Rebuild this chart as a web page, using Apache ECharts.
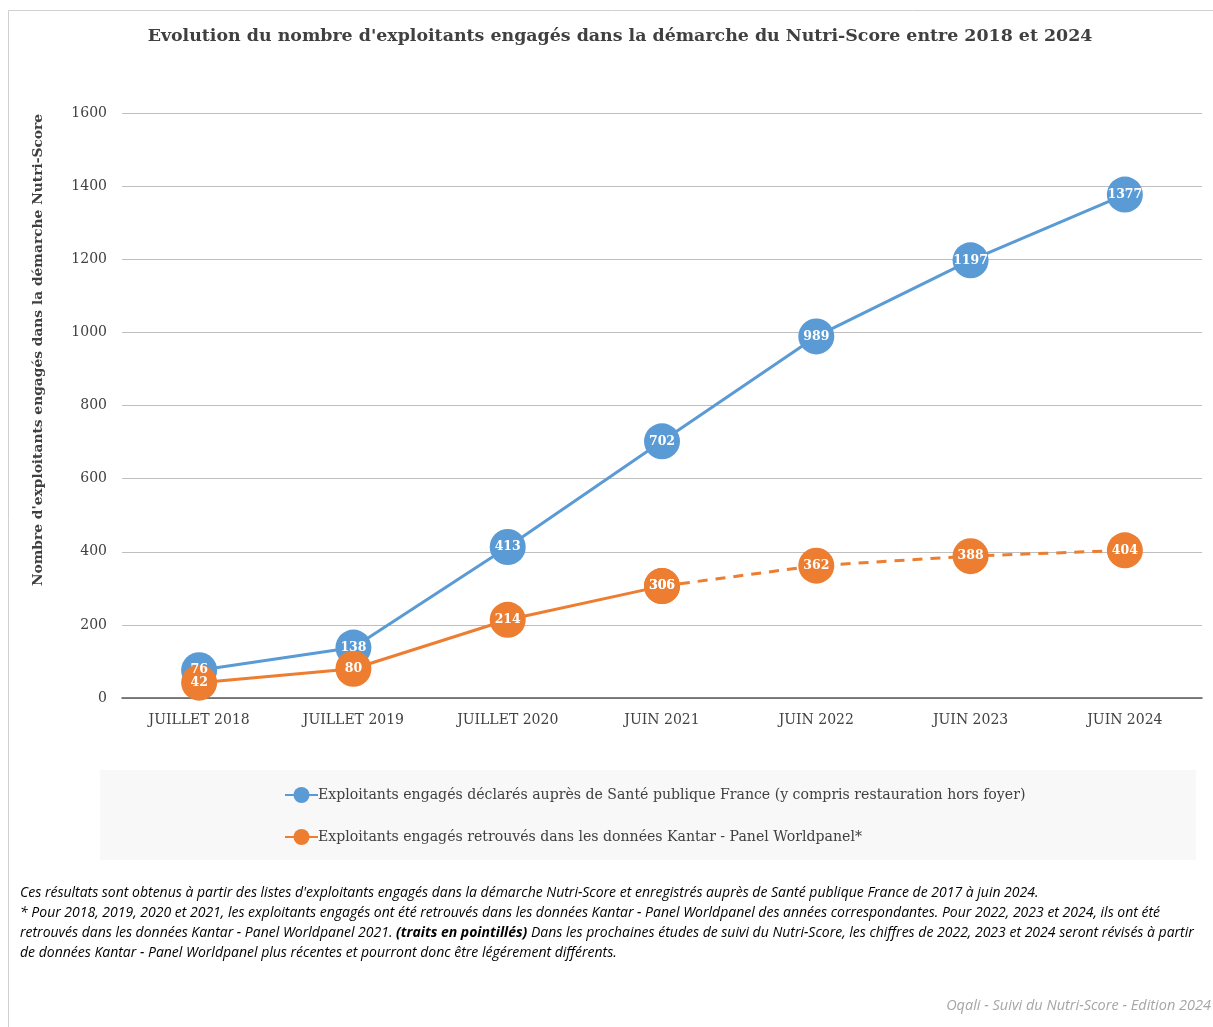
<!DOCTYPE html>
<html>
<head>
<meta charset="utf-8">
<script src="https://cdn.jsdelivr.net/npm/echarts@6/dist/echarts.min.js"></script>
<style>
html,body{margin:0;padding:0;background:#fff;}
#chart{width:1213px;height:1027px;}
</style>
</head>
<body>
<div id="chart"></div>
<script>
// categories and values
var categories=['JUILLET 2018','JUILLET 2019','JUILLET 2020','JUIN 2021','JUIN 2022','JUIN 2023','JUIN 2024'];
var declares=[76,138,413,702,989,1197,1377];
var kantar=[42,80,214,306,null,null,null];
var kantarEstime=[null,null,null,306,362,388,404];
var yTicks=[0,200,400,600,800,1000,1200,1400,1600];

var serif='"DejaVu Serif","Liberation Serif",serif';
var note='"Open Sans",Lato,sans-serif';
var blue='#5b9bd5',orange='#ed7d31';
var nomBleu='Exploitants engagés déclarés auprès de Santé publique France (y compris restauration hors foyer)';
var nomOrange='Exploitants engagés retrouvés dans les données Kantar - Panel Worldpanel*';

var notes=[
	"Ces résultats sont obtenus à partir des listes d'exploitants engagés dans la démarche Nutri-Score et enregistrés auprès de Santé publique France de 2017 à juin 2024.",
	"* Pour 2018, 2019, 2020 et 2021, les exploitants engagés ont été retrouvés dans les données Kantar - Panel Worldpanel des années correspondantes. Pour 2022, 2023 et 2024, ils ont été",
	"retrouvés dans les données Kantar - Panel Worldpanel 2021. {b|(traits en pointillés)} Dans les prochaines études de suivi du Nutri-Score, les chiffres de 2022, 2023 et 2024 seront révisés à partir",
	"de données Kantar - Panel Worldpanel plus récentes et pourront donc être légérement différents."
];

var chart=echarts.init(document.getElementById('chart'));

var label={
	show:true,
	position:'inside',
	color:'#fff',
	fontFamily:serif,
	fontWeight:'bold',
	fontSize:12.5
};

var graphics=[
	{type:'rect',shape:{x:8.5,y:10.5,width:1210,height:1020},style:{fill:'none',stroke:'#d0d0d0',lineWidth:1},z:-10},
	{type:'rect',shape:{x:100,y:770,width:1096,height:90},style:{fill:'#f8f8f8'},z:-5},
	{type:'text',x:38,y:350,rotation:Math.PI/2,style:{text:"Nombre d'exploitants engagés dans la démarche Nutri-Score",
		font:'bold 13.8px '+serif,fill:'#404040',textAlign:'center',textVerticalAlign:'middle'}},
	{type:'text',right:2,top:998,style:{text:'Oqali - Suivi du Nutri-Score - Edition 2024',font:'italic 14.5px '+note,fill:'#a6a6a6'}}
];
for(var i=0;i<notes.length;i++){
	graphics.push({type:'text',left:20,top:886+i*20,style:{
		text:notes[i],font:'italic 14px '+note,fill:'#000',
		rich:{b:{fontFamily:note,fontStyle:'italic',fontWeight:'bold',fontSize:14}}
	}});
}

var option={
	animation:false,
	title:{
		text:"Evolution du nombre d'exploitants engagés dans la démarche du Nutri-Score entre 2018 et 2024",
		left:615,top:23,textAlign:'center',
		textStyle:{fontFamily:serif,fontWeight:'bold',fontSize:17.4,color:'#404040'}
	},
	grid:{left:122,right:11,top:113,bottom:329},
	legend:{
		data:[nomBleu,nomOrange],
		orient:'vertical',left:279,top:782,itemGap:26,itemWidth:33,itemHeight:20,
		textStyle:{fontFamily:serif,fontSize:14.1,color:'#404040',padding:[0,0,0,-5]}
	},
	xAxis:{
		type:'category',data:categories,boundaryGap:true,
		axisLine:{lineStyle:{color:'#595959',width:1.5}},
		axisTick:{show:false},
		axisLabel:{fontFamily:serif,fontSize:14,color:'#404040',margin:15}
	},
	yAxis:{
		type:'value',min:yTicks[0],max:yTicks[yTicks.length-1],interval:200,
		axisLine:{show:false},axisTick:{show:false},
		splitLine:{lineStyle:{color:'#bfbfbf'}},
		axisLabel:{fontFamily:serif,fontSize:14,color:'#404040',margin:15,formatter:function(v){return String(v);}}
	},
	series:[
		{
			name:nomBleu,type:'line',data:declares,color:blue,symbol:'circle',symbolSize:36,
			lineStyle:{width:3},z:2
		},
		{
			name:nomOrange,type:'line',data:kantar,color:orange,symbol:'circle',symbolSize:36,
			lineStyle:{width:3},label:label,z:3
		},
		{
			name:'estime',type:'line',data:kantarEstime,color:orange,symbol:'circle',symbolSize:36,
			lineStyle:{width:3,type:[10,8]},label:label,z:3
		},
		{
			// etiquettes bleues au-dessus des cercles orange
			name:'etiquettes',type:'line',data:declares,symbol:'circle',symbolSize:36,
			itemStyle:{color:'rgba(0,0,0,0)'},lineStyle:{width:0,color:'rgba(0,0,0,0)'},label:label,z:5,silent:true
		}
	],
	graphic:graphics
};
chart.setOption(option);
</script>
</body>
</html>
